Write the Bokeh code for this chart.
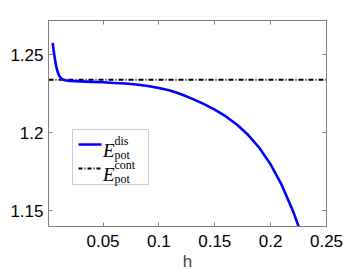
from bokeh.plotting import figure
from bokeh.models import (Range1d, FixedTicker, LinearAxis, BoxAnnotation, Label, Arrow)
from bokeh.embed import file_html
from bokeh.resources import INLINE

# ---- data ----
h = [0.005, 0.0055, 0.006, 0.007, 0.008, 0.009, 0.010, 0.011, 0.013, 0.016,
     0.02, 0.03, 0.04, 0.05, 0.06, 0.07, 0.08, 0.09, 0.10, 0.11, 0.12, 0.13,
     0.14, 0.15, 0.16, 0.17, 0.18, 0.19, 0.20, 0.21, 0.22, 0.23]
E_dis = [1.2577, 1.2545, 1.2518, 1.2470, 1.2430, 1.2400, 1.2378, 1.2363, 1.2346, 1.2337,
         1.2333, 1.2330, 1.2327, 1.2324, 1.2320, 1.2316, 1.2310, 1.2300, 1.2288, 1.2271,
         1.2247, 1.2218, 1.2186, 1.2149, 1.2105, 1.2052, 1.1986, 1.1903, 1.1798, 1.1665,
         1.1500, 1.1300]
E_cont = 1.234
x_range = (0.0012, 0.25)
y_range = (1.14, 1.272)
x_ticks = [0.05, 0.1, 0.15, 0.2, 0.25]
x_tick_labels = ["0.05", "0.1", "0.15", "0.2", "0.25"]
y_ticks = [1.15, 1.2, 1.25]
y_tick_labels = ["1.15", "1.2", "1.25"]
x_label = "h"

AX = "#808080"
FONT = "Liberation Sans"
SERIF = "Liberation Serif"

p = figure(width=349, height=262, output_backend="svg", toolbar_location=None,
           x_range=Range1d(*x_range), y_range=Range1d(*y_range),
           min_border_left=48, min_border_right=23, min_border_top=20, min_border_bottom=36)
p.frame_width = 278
p.frame_height = 206
p.grid.visible = False
p.outline_line_color = AX
p.background_fill_color = "white"
p.border_fill_color = "white"

def style(ax, labels):
    ax.axis_line_color = AX
    ax.major_tick_line_color = AX
    ax.major_tick_in = 4
    ax.major_tick_out = 0
    ax.minor_tick_line_color = None
    ax.major_label_text_font = FONT
    ax.major_label_text_font_size = "17px"
    ax.major_label_text_color = "black"
    if not labels:
        ax.major_label_text_font_size = "0px"
        ax.major_label_text_alpha = 0

p.xaxis.ticker = FixedTicker(ticks=x_ticks)
p.xaxis.major_label_overrides = dict(zip(x_ticks, x_tick_labels))
p.yaxis.ticker = FixedTicker(ticks=y_ticks)
p.yaxis.major_label_overrides = dict(zip(y_ticks, y_tick_labels))
style(p.xaxis[0], True)
style(p.yaxis[0], True)
p.xaxis.major_label_standoff = 8
p.yaxis.major_label_standoff = 5
p.xaxis.axis_label = x_label
p.xaxis.axis_label_text_font = FONT
p.xaxis.axis_label_text_font_size = "17px"
p.xaxis.axis_label_text_font_style = "normal"
p.xaxis.axis_label_standoff = 2

top = LinearAxis(ticker=FixedTicker(ticks=x_ticks))
right = LinearAxis(ticker=FixedTicker(ticks=y_ticks))
style(top, False)
style(right, False)
p.add_layout(top, "above")
p.add_layout(right, "right")

p.line([x_range[0], x_range[1]], [E_cont, E_cont], line_color="black", line_width=2,
       line_dash="5 2 1 2")
p.line(h, E_dis, line_color="#0000ff", line_width=2.6)

# ---- legend ----
p.add_layout(BoxAnnotation(left=24, right=100, top=97, bottom=42,
                           left_units="screen", right_units="screen",
                           top_units="screen", bottom_units="screen",
                           fill_color="white", fill_alpha=1, line_color="#555555",
                           line_width=1, level="overlay"))
p.add_layout(Arrow(x_start=30, x_end=53, y_start=82, y_end=82, start_units="screen",
                   end_units="screen", end=None, line_color="#0000ff", line_width=2.6,
                   level="overlay"))
p.add_layout(Arrow(x_start=30, x_end=53, y_start=58, y_end=58, start_units="screen",
                   end_units="screen", end=None, line_color="black", line_width=2,
                   line_dash="4 2 1 2", level="overlay"))

def lab(x, y, t, size, style="normal"):
    p.add_layout(Label(x=x, y=y, x_units="screen", y_units="screen", text=t,
                       text_font=SERIF, text_font_size=size, text_font_style=style,
                       text_baseline="alphabetic", text_align="left", text_color="black",
                       level="overlay"))

for (yb, sup) in [(76, "dis"), (52, "cont")]:
    lab(54.5, yb, "E", "19px", "italic")
    lab(66, yb + 10, sup, "12px")
    lab(66, yb - 4, "pot", "12px")

open("out.html", "w").write(file_html(p, INLINE))
